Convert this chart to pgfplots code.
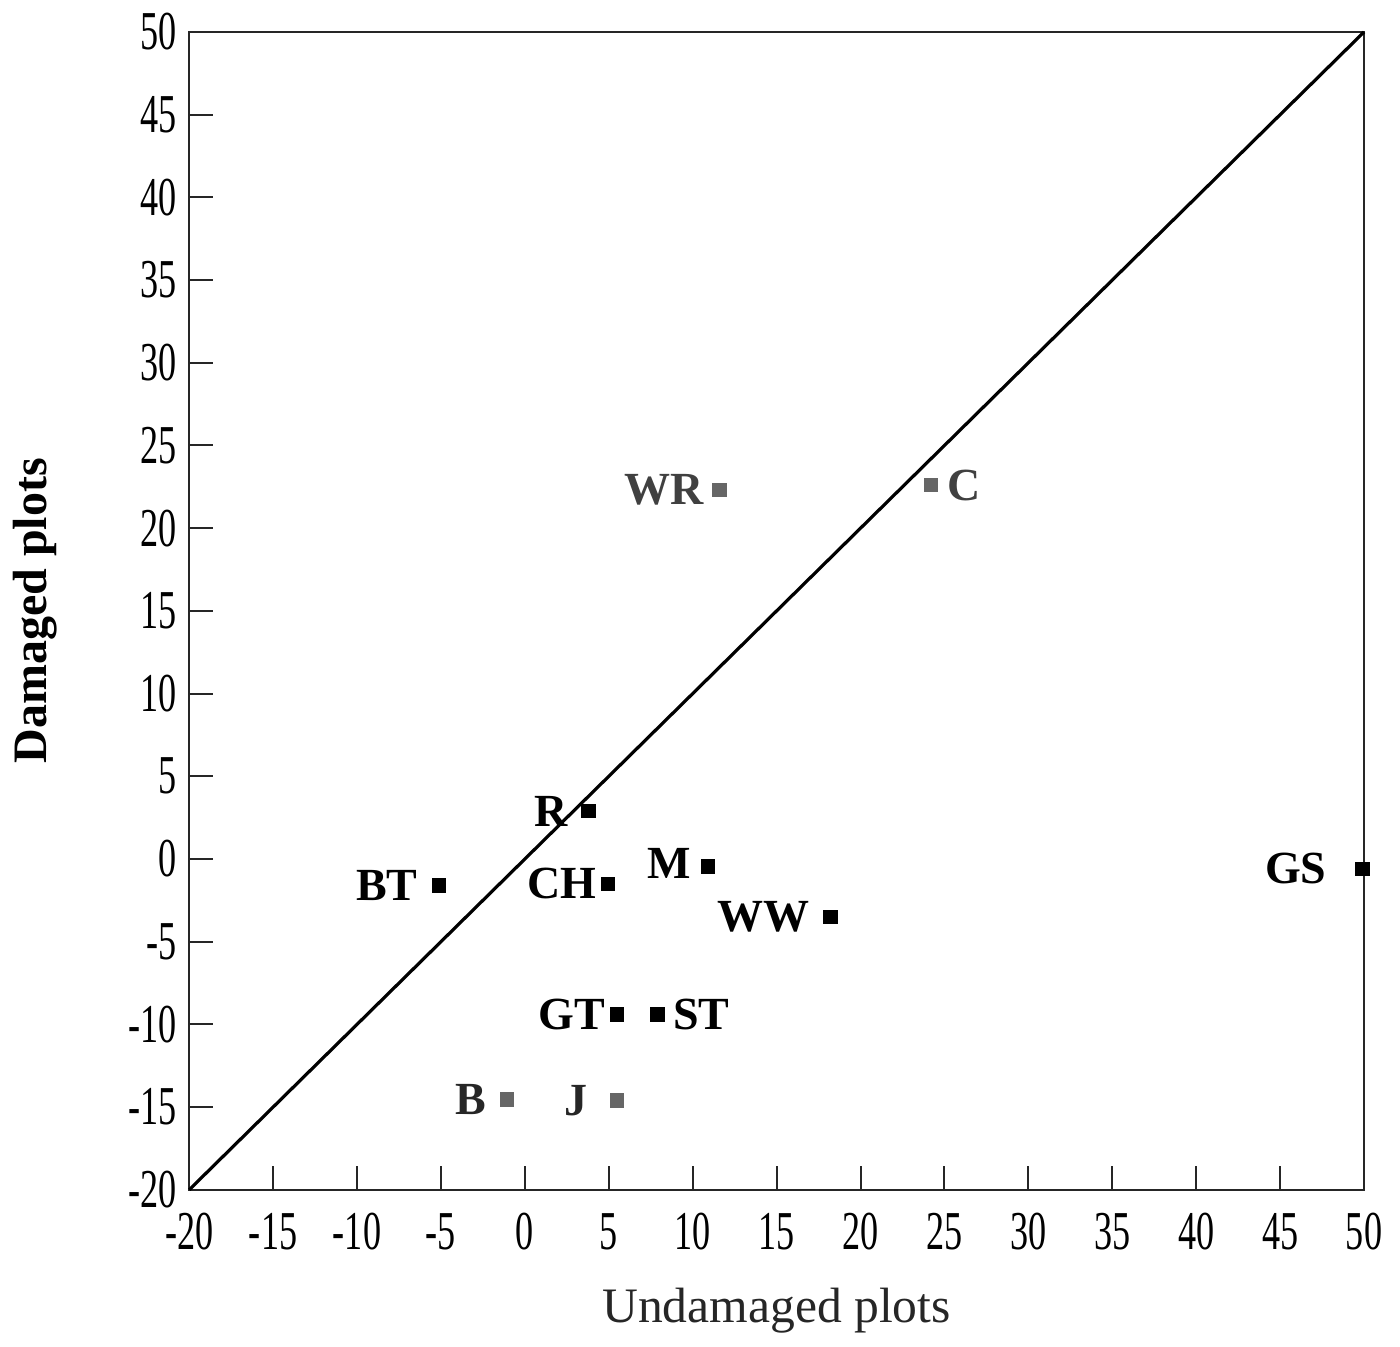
\documentclass[border=0pt]{standalone}
\usepackage{fontspec}
\setmainfont{Liberation Serif}
\newfontfamily\tickfont[FakeStretch=0.66]{Liberation Serif}
\usepackage{pgfplots}
\pgfplotsset{compat=1.18}
% #1 x, #2 y, #3 label, #4 anchor, #5 xshift, #6 yshift, #7 mark colour, #8 text colour
\newcommand{\lblpt}[8]{%
  \addplot[only marks, mark=square*, mark size=1.6pt, color=#7,
    nodes near coords={#3},
    every node near coord/.style={anchor=#4, xshift=#5, yshift=#6, inner sep=0pt,
      font=\bfseries\fontsize{11.5}{13}\selectfont, text=#8}]
    coordinates {(#1,#2)};}
\begin{document}
\begin{tikzpicture}
\begin{axis}[name=ax,
  width=293.75pt, height=289.5pt, scale only axis,
  xmin=-20, xmax=50, ymin=-20, ymax=50,
  xtick={-20,-15,...,50}, ytick={-20,-15,...,50},
  tick align=inside, tick pos=left, major tick length=6pt,
  axis line style={line width=0.6pt, black!85},
  every tick/.style={black!85, line width=0.5pt},
  /pgf/number format/assume math mode=true,
  tick label style={font=\tickfont\fontsize{13.7}{16}\selectfont},
  xticklabel style={anchor=base, yshift=-15pt},
  yticklabel style={anchor=east, inner sep=0pt, xshift=-3pt},
  xlabel={Undamaged plots}, ylabel={Damaged plots},
  every axis x label/.style={at={(axis description cs:0.5,0)}, anchor=base, yshift=-33.25pt,
    font=\fontsize{12.4}{14}\selectfont, text=black!85},
  every axis y label/.style={at={(axis description cs:-0.131,0.5)}, rotate=90, anchor=center,
    font=\bfseries\fontsize{12}{14}\selectfont},
  clip=false]
\addplot[black, line width=0.8pt] coordinates {(-20,-20) (50,50)};
\lblpt{11.6}{22.3}{WR}{east}{-3.75pt}{0pt}{black!60}{black!75}
\lblpt{24.2}{22.6}{C}{west}{4pt}{0pt}{black!60}{black!75}
\lblpt{-1.05}{-14.55}{B}{east}{-5pt}{0pt}{black!60}{black!85}
\lblpt{5.5}{-14.6}{J}{east}{-7.25pt}{0pt}{black!60}{black!85}
\lblpt{3.8}{2.9}{R}{east}{-5pt}{0pt}{black}{black}
\lblpt{-5.1}{-1.6}{BT}{east}{-5.25pt}{0pt}{black}{black}
\lblpt{4.95}{-1.5}{CH}{east}{-2.75pt}{0pt}{black}{black}
\lblpt{10.9}{-0.45}{M}{east}{-4pt}{0.75pt}{black}{black}
\lblpt{18.2}{-3.5}{WW}{east}{-5pt}{0pt}{black}{black}
\lblpt{49.9}{-0.6}{GS}{east}{-8.75pt}{0pt}{black}{black}
\lblpt{5.5}{-9.4}{GT}{east}{-2.75pt}{0pt}{black}{black}
\lblpt{7.9}{-9.4}{ST}{west}{3.75pt}{0pt}{black}{black}
\end{axis}
\path (ax.south west) ++(-47.25pt,-37.5pt);
\path (ax.north east) ++(9pt,8pt);
\end{tikzpicture}
\end{document}
